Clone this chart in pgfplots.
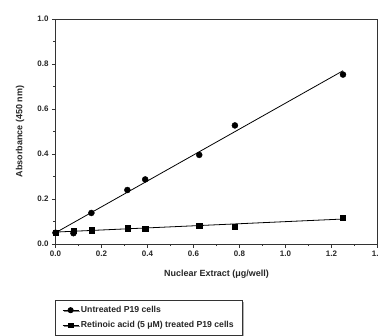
\documentclass[border=0pt]{standalone}
\usepackage{pgfplots}
\pgfplotsset{compat=1.18}
\usepackage{fontspec}
\setmainfont{Liberation Sans}
\usetikzlibrary{shadows}
\begin{document}
\begin{tikzpicture}[x=1bp,y=1bp]
\begin{scope}
\clip (-55.5,-92) rectangle (322.5,244);
\begin{axis}[
  scale only axis, width=322bp, height=225bp,
  at={(0,0)}, anchor=south west,
  xmin=0, xmax=1.4, ymin=0, ymax=1,
  xtick={0,0.2,...,1.4}, ytick={0,0.2,...,1.0},
  minor x tick num=1, minor y tick num=1,
  tick pos=left, tick align=outside,
  major tick length=3.5bp, minor tick length=2bp,
  axis line style={black!80, line width=0.8bp},
  every tick/.style={black!80, line width=0.7bp},
  /pgf/number format/assume math mode=true,
  /pgf/number format/.cd, fixed, fixed zerofill, precision=1, /pgfplots/.cd,
  tick label style={font=\fontsize{8}{9}\selectfont\bfseries, text=black!85},
  xlabel={Nuclear Extract (μg/well)},
  ylabel={Absorbance (450 nm)},
  label style={font=\fontsize{9}{11}\selectfont\bfseries, text=black!85},
  xlabel style={at={(axis description cs:0.5,-0.1333)}, anchor=center},
  ylabel style={at={(axis description cs:-0.110,0.5)}, anchor=center},
  legend style={at={(axis description cs:-0.0016,-0.249)}, anchor=north west,
    draw=black!80, line width=0.6bp, fill=white,
    drop shadow={shadow xshift=1.2bp, shadow yshift=-1.2bp, fill=black!60},
    font=\fontsize{8.7}{10}\selectfont\bfseries, text=black!85,
    inner xsep=7bp, inner ysep=4bp, row sep=3.5bp},
  legend cell align=left,
  legend image code/.code={\draw[mark repeat=2,mark phase=2] plot coordinates {(0cm,0cm) (0.28cm,0cm) (0.56cm,0cm)};},
]
\addlegendimage{black, line width=0.8bp, mark=*, mark size=2.6bp}
\addlegendentry{Untreated P19 cells}
\addlegendimage{black, line width=0.8bp, mark=square*, mark size=2.3bp}
\addlegendentry{Retinoic acid (5 μM) treated P19 cells}
\addplot[black, line width=0.8bp, forget plot] coordinates {(0,0.050) (1.25,0.770)};
\addplot[black, line width=0.8bp, forget plot] coordinates {(0,0.053) (1.25,0.111)};
\addplot[black, only marks, mark=*, mark size=3bp, forget plot] coordinates {
 (0,0.050) (0.078,0.048) (0.156,0.138) (0.3125,0.240) (0.39,0.287) (0.625,0.396) (0.78,0.527) (1.25,0.753)};
\addplot[black, only marks, mark=square*, mark size=2.6bp, forget plot] coordinates {
 (0,0.050) (0.078,0.058) (0.156,0.061) (0.3125,0.070) (0.39,0.067) (0.625,0.083) (0.78,0.076) (1.25,0.117)};
\end{axis}
\end{scope}
\pgfresetboundingbox
\path (-55.5,-92) rectangle (322.5,244);
\end{tikzpicture}
\end{document}
